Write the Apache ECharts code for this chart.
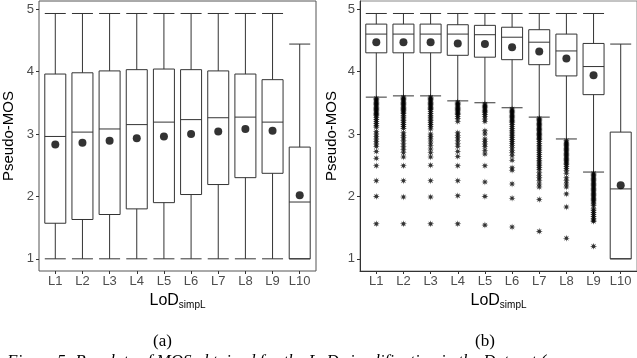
<!DOCTYPE html>
<html>
<head>
<meta charset="utf-8">
<script src="https://cdn.jsdelivr.net/npm/echarts@6/dist/echarts.min.js"></script>
<style>
  html, body { margin: 0; padding: 0; background: #fff; }
  #chart { width: 637px; height: 358px; }
</style>
</head>
<body>
<div id="chart"></div>
<script>
// categories
var levels = ['L1','L2','L3','L4','L5','L6','L7','L8','L9','L10'];
var yTicks = [1, 2, 3, 4, 5];

// (a) boxes: [min, Q1, median, Q3, max]
var boxA = [
  [1, 1.57, 2.96, 3.96, 4.93],
  [1, 1.63, 3.03, 3.98, 4.93],
  [1, 1.71, 3.08, 4.01, 4.93],
  [1, 1.80, 3.15, 4.03, 4.93],
  [1, 1.90, 3.19, 4.04, 4.93],
  [1, 2.03, 3.23, 4.03, 4.93],
  [1, 2.19, 3.26, 4.01, 4.93],
  [1, 2.30, 3.27, 3.96, 4.93],
  [1, 2.37, 3.19, 3.87, 4.93],
  [1, 1.00, 1.91, 2.79, 4.44]
];
var meanA = [2.83, 2.86, 2.89, 2.93, 2.96, 3.00, 3.04, 3.08, 3.05, 2.02];

// (b) boxes
var boxB = [
  [3.59, 4.30, 4.60, 4.76, 4.93],
  [3.61, 4.30, 4.60, 4.76, 4.93],
  [3.61, 4.30, 4.60, 4.76, 4.93],
  [3.53, 4.26, 4.60, 4.75, 4.93],
  [3.50, 4.23, 4.59, 4.74, 4.93],
  [3.42, 4.19, 4.55, 4.71, 4.93],
  [3.27, 4.11, 4.47, 4.67, 4.93],
  [2.92, 3.93, 4.33, 4.60, 4.93],
  [2.39, 3.63, 4.08, 4.45, 4.93],
  [1.00, 1.00, 2.12, 3.03, 4.44]
];
var meanB = [4.47, 4.47, 4.47, 4.45, 4.44, 4.39, 4.32, 4.21, 3.94, 2.18];

// (b) outliers per level
var outL1 = [3.57,3.55,3.53,3.51,3.49,3.47,3.45,3.43,3.41,3.39,3.37,3.35,3.33,3.31,3.29,3.26,3.23,3.2,3.17,3.14,3.11,3.04,3.0,2.96,2.92,2.88,2.84,2.8,2.72,2.61,2.49,2.25,2.0,1.56];
var outL2 = [3.59,3.57,3.55,3.53,3.51,3.49,3.47,3.45,3.43,3.41,3.39,3.37,3.35,3.33,3.3,3.27,3.24,3.21,3.18,3.15,3.12,3.09,3.02,2.98,2.94,2.9,2.85,2.8,2.75,2.7,2.63,2.49,2.25,1.99,1.56];
var outL3 = [3.59,3.57,3.55,3.53,3.51,3.49,3.47,3.45,3.43,3.41,3.39,3.36,3.33,3.3,3.27,3.24,3.21,3.18,3.15,3.12,3.08,3.0,2.96,2.92,2.87,2.82,2.76,2.7,2.63,2.5,2.25,1.99,1.56];
var outL4 = [3.51,3.49,3.47,3.45,3.43,3.41,3.39,3.37,3.35,3.33,3.31,3.28,3.25,3.2,3.02,2.98,2.94,2.9,2.85,2.8,2.72,2.64,2.49,2.25,2.01,1.56];
var outL5 = [3.48,3.46,3.44,3.42,3.4,3.38,3.36,3.34,3.31,3.28,3.24,3.2,3.05,3.0,2.92,2.88,2.84,2.8,2.74,2.68,2.49,2.23,2.0,1.54];
var outL6 = [3.4,3.38,3.36,3.34,3.32,3.3,3.28,3.26,3.24,3.22,3.2,3.18,3.15,3.12,3.09,3.06,3.03,3.0,2.97,2.94,2.91,2.88,2.85,2.82,2.78,2.74,2.7,2.65,2.58,2.46,2.42,2.2,1.97,1.51];
var outL7 = [3.25,3.23,3.21,3.19,3.17,3.15,3.13,3.11,3.09,3.07,3.05,3.03,3.01,2.99,2.97,2.95,2.93,2.91,2.88,2.85,2.82,2.79,2.76,2.73,2.7,2.67,2.64,2.61,2.58,2.55,2.52,2.49,2.46,2.43,2.38,2.34,2.3,2.26,2.2,2.15,1.95,1.44];
var outL8 = [2.89,2.87,2.85,2.83,2.81,2.79,2.77,2.75,2.73,2.71,2.69,2.67,2.65,2.63,2.61,2.59,2.57,2.55,2.53,2.51,2.48,2.45,2.42,2.37,2.3,2.25,2.2,2.15,2.04,1.83,1.33];
var outL9 = [2.37,2.35,2.33,2.31,2.29,2.27,2.25,2.23,2.21,2.19,2.17,2.15,2.13,2.11,2.09,2.07,2.05,2.03,2.01,1.99,1.97,1.95,1.93,1.91,1.88,1.85,1.8,1.77,1.74,1.71,1.68,1.65,1.62,1.6,1.2];
var outL10 = [];
var outliersB = [outL1, outL2, outL3, outL4, outL5, outL6, outL7, outL8, outL9, outL10];

var captionText = 'Figure 5: Boxplots of MOS obtained for the LoD simplification in the Dataset (';

// asterisk-like marker
var star = 'path://';
for (var k = 0; k < 16; k++) {
  var ang = k * Math.PI / 8 - Math.PI / 2;
  var r = k % 2 ? 4 : 10;
  star += (k ? 'L' : 'M') + (r * Math.cos(ang)).toFixed(2) + ',' + (r * Math.sin(ang)).toFixed(2) + ' ';
}
star += 'Z';

function withX(rows) {
  return rows.map(function (r, i) { return [i + 1].concat(r); });
}
function pts(vals) {
  return vals.map(function (v, i) { return [i + 1, v]; });
}
var outData = [];
outliersB.forEach(function (arr, i) {
  arr.forEach(function (v) { outData.push([i + 1, v]); });
});

var axisGray = '#4d4d4d';
var lineCol = '#333333';

function xAxis(gi, showLine) {
  return {
    type: 'value', gridIndex: gi, min: 0.4, max: 10.6,
    name: '{a|LoD}{b|simpL}', nameLocation: 'middle', nameGap: 14,
    nameTextStyle: {
      rich: {
        a: { fontSize: 16, color: '#000', fontFamily: 'Liberation Sans' },
        b: { fontSize: 10, color: '#000', fontFamily: 'Liberation Sans', padding: [8, 0, 0, 0] }
      }
    },
    axisLine: { show: showLine, lineStyle: { color: lineCol, width: 1 } },
    axisTick: { show: true, length: 3, customValues: [1,2,3,4,5,6,7,8,9,10], lineStyle: { color: '#333' } },
    axisLabel: {
      customValues: [1,2,3,4,5,6,7,8,9,10], margin: 4, color: axisGray,
      fontSize: 13, fontFamily: 'Liberation Sans',
      formatter: function (v) { return levels[Math.round(v) - 1]; }
    },
    splitLine: { show: false }
  };
}
function yAxis(gi, showLine, gap) {
  return {
    type: 'value', gridIndex: gi, min: 0.805, max: 5.13,
    name: 'Pseudo-MOS', nameLocation: 'middle', nameGap: gap,
    nameTextStyle: { fontSize: 15, color: '#000', fontFamily: 'Liberation Sans' },
    axisLine: { show: showLine, lineStyle: { color: lineCol, width: 1 } },
    axisTick: { show: true, length: 3, customValues: yTicks, lineStyle: { color: '#333' } },
    axisLabel: { customValues: yTicks, margin: 5, color: axisGray, fontSize: 13, fontFamily: 'Liberation Sans' },
    splitLine: { show: false }
  };
}

var boxStyle = { color: '#fff', borderColor: lineCol, borderWidth: 1 };

var chart = echarts.init(document.getElementById('chart'), null, { renderer: 'canvas' });
chart.setOption({
  animation: false,
  backgroundColor: '#fff',
  grid: [
    { left: 37, top: 1, width: 279, height: 270, show: true, borderColor: '#555', borderWidth: 1, backgroundColor: 'transparent' },
    { left: 360, top: 1, width: 280.5, height: 270, show: true, borderColor: '#888', borderWidth: 1, backgroundColor: 'transparent' }
  ],
  xAxis: [xAxis(0, false), xAxis(1, true)],
  yAxis: [yAxis(0, false, 23), yAxis(1, true, 21)],
  graphic: [
    { type: 'text', left: 153, top: 333, style: { text: '(a)', fontSize: 17, fontFamily: 'Liberation Serif', fill: '#000' } },
    { type: 'text', left: 475, top: 333, style: { text: '(b)', fontSize: 17, fontFamily: 'Liberation Serif', fill: '#000' } },
    { type: 'text', left: 7, top: 353, style: { text: captionText, fontSize: 17, fontStyle: 'italic', fontFamily: 'Liberation Serif', fill: '#000' } }
  ],
  series: [
    { type: 'boxplot', xAxisIndex: 0, yAxisIndex: 0, data: withX(boxA), boxWidth: [21, 21], itemStyle: boxStyle, emphasis: { disabled: true } },
    { type: 'scatter', xAxisIndex: 0, yAxisIndex: 0, data: pts(meanA), symbol: 'circle', symbolSize: 8, itemStyle: { color: '#000' }, z: 5 },
    { type: 'boxplot', xAxisIndex: 1, yAxisIndex: 1, data: withX(boxB), boxWidth: [21, 21], itemStyle: boxStyle, emphasis: { disabled: true } },
    { type: 'scatter', xAxisIndex: 1, yAxisIndex: 1, data: outData, symbol: star, symbolSize: 7, itemStyle: { color: '#000' }, z: 4 },
    { type: 'scatter', xAxisIndex: 1, yAxisIndex: 1, data: pts(meanB), symbol: 'circle', symbolSize: 8, itemStyle: { color: '#000' }, z: 5 }
  ]
});
</script>
</body>
</html>
